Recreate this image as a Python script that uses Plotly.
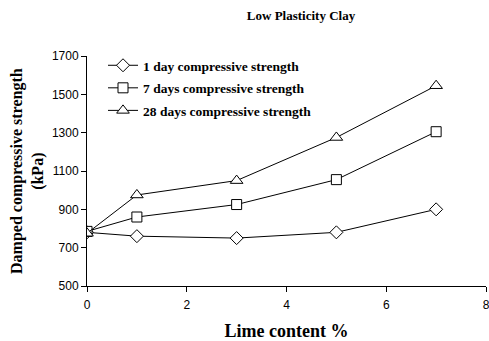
import plotly.graph_objects as go

lime = [0, 1, 3, 5, 7]
day1 = [780, 760, 750, 780, 900]
day7 = [785, 860, 925, 1055, 1305]
day28 = [775, 975, 1050, 1275, 1545]

names = ["1 day compressive strength", "7 days compressive strength", "28 days compressive strength"]
symbols = ["diamond", "square", "triangle-up"]
sizes = [10, 10, 11]

fig = go.Figure()
for i, (name, ys, sym, sz) in enumerate(zip(names, [day1, day7, day28], symbols, sizes)):
    fig.add_trace(go.Scatter(
        x=lime, y=ys, name="<b>" + name + "</b>", mode="lines+markers",
        legendgroup="g%d" % i,
        line=dict(color="black", width=1),
        marker=dict(symbol=sym, size=sz, color="white", line=dict(color="black", width=1)),
    ))

PL, PR, PT, PB = 87, 3, 56, 55
pw = 489 - PL - PR

fig.update_layout(
    width=489, height=341,
    margin=dict(l=PL, r=PR, t=PT, b=PB),
    plot_bgcolor="white", paper_bgcolor="white",
    title=dict(text="<b>Low Plasticity Clay</b>", x=301 / 489, xanchor="center", y=1 - 15 / 341, yanchor="middle",
               font=dict(family="Liberation Serif", size=13, color="black")),
    showlegend=True,
    legend=dict(x=(103 - PL) / pw, y=1 + 6 / 230, xanchor="left", yanchor="top", bgcolor="rgba(0,0,0,0)",
                font=dict(family="Liberation Serif", size=13.5, color="black"),
                tracegroupgap=2, itemwidth=30),
    font=dict(family="Liberation Sans", size=12, color="black"),
    annotations=[dict(text="<b>Damped compressive strength<br>(kPa)</b>", textangle=-90,
                      xref="paper", yref="paper", x=(27 - PL) / pw, y=0.5,
                      xanchor="center", yanchor="middle", showarrow=False,
                      font=dict(family="Liberation Serif", size=16, color="black"))],
)
fig.update_xaxes(range=[0, 8], tickvals=[0, 2, 4, 6, 8], showgrid=False, zeroline=False, automargin=False,
                 showline=True, linecolor="black", linewidth=1, ticks="outside", ticklen=5,
                 tickcolor="black", tickfont=dict(family="Liberation Sans", size=12), ticklabelstandoff=3,
                 ticklabeloverflow="allow",
                 title=dict(text="<b>Lime content %</b>", font=dict(family="Liberation Serif", size=18), standoff=14))
fig.update_yaxes(range=[500, 1700], tickvals=[500, 700, 900, 1100, 1300, 1500, 1700], showgrid=False, zeroline=False,
                 automargin=False,
                 showline=True, linecolor="black", linewidth=1, ticks="outside", ticklen=5,
                 tickcolor="black", tickfont=dict(family="Liberation Sans", size=12))

fig.write_html("out.html", config={"displayModeBar": False},
               post_script="document.body.style.margin='0';document.body.style.padding='0';")
